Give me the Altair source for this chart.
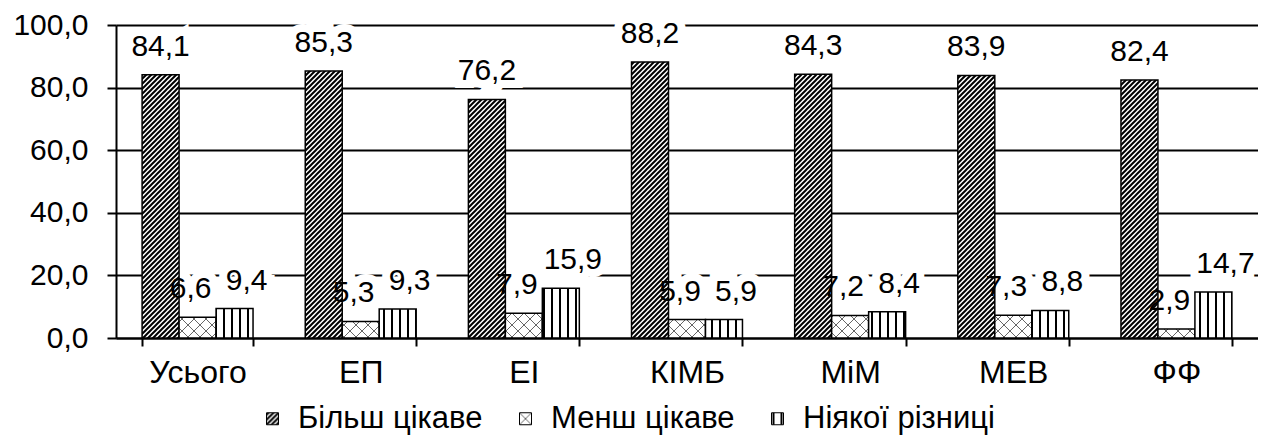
import altair as alt
import pandas as pd
import jinja2

# ---- data ----
categories = ["Усього", "ЕП", "ЕІ", "КІМБ", "МіМ", "МЕВ", "ФФ"]
series = ["Більш цікаве", "Менш цікаве", "Ніякої різниці"]
more_interesting = [84.1, 85.3, 76.2, 88.2, 84.3, 83.9, 82.4]
less_interesting = [6.6, 5.3, 7.9, 5.9, 7.2, 7.3, 2.9]
no_difference = [9.4, 9.3, 15.9, 5.9, 8.4, 8.8, 14.7]
y_ticks = [0, 20, 40, 60, 80, 100]

rows = []
for s, vals in zip(series, [more_interesting, less_interesting, no_difference]):
    for c, v in zip(categories, vals):
        rows.append({"cat": c, "series": s, "value": v})
df = pd.DataFrame(rows)

fills = ["url(#pat-diag)", "url(#pat-cross)", "url(#pat-vert)"]
label_dx = [0, -7, 12]
FONT = "Liberation Sans"
LABEL_EXPR = "replace(format(datum.value, '.1f'), '.', ',')"

x_enc = alt.X(
    "cat:N", sort=categories,
    scale=alt.Scale(paddingInner=0.32, paddingOuter=0.16),
    axis=alt.Axis(title=None, labelFontSize=32, labelColor="black", labelFont=FONT,
                  tickBand="extent", tickSize=8, tickColor="black", tickWidth=2,
                  domainColor="black", domainWidth=2, labelPadding=11, labelAngle=0,
                  grid=False),
)
y_enc = alt.Y(
    "value:Q",
    scale=alt.Scale(domain=[0, 100], nice=False),
    axis=alt.Axis(title=None, values=y_ticks, labelExpr=LABEL_EXPR, labelFontSize=30,
                  labelFont=FONT, labelColor="black", tickSize=9, tickColor="black",
                  tickWidth=2, domainColor="black", domainWidth=2, gridColor="black",
                  gridWidth=2, labelPadding=19),
)
xo = alt.XOffset("series:N", sort=series, scale=alt.Scale(paddingInner=0, paddingOuter=0))

bars = alt.Chart(df).mark_bar(stroke="black", strokeWidth=1.5).encode(
    x=x_enc, y=y_enc, xOffset=xo,
    fill=alt.Fill("series:N", sort=series,
                  scale=alt.Scale(domain=series, range=fills),
                  legend=alt.Legend(orient="none", legendX=141, legendY=378,
                                    direction="horizontal", title=None,
                                    labelFontSize=31, labelFont=FONT, labelColor="black",
                                    labelLimit=0,
                                    symbolType="square", symbolSize=144,
                                    symbolStrokeColor="black", symbolStrokeWidth=1,
                                    labelOffset=10, columnPadding=27)),
)

halos = []
texts = []
for s, dx in zip(series, label_dx):
    bt = alt.Chart(df).transform_filter(
        alt.datum.series == s
    ).transform_calculate(label=LABEL_EXPR).encode(
        x=x_enc, y=y_enc, xOffset=xo, text="label:N")
    halos.append(bt.mark_text(dx=dx, dy=-19, baseline="alphabetic", fontSize=30, font=FONT,
                              fill="white", stroke="white", strokeWidth=16,
                              strokeJoin="miter"))
    texts.append(bt.mark_text(dx=dx, dy=-19, baseline="alphabetic", fontSize=30, font=FONT,
                              color="black"))

chart = alt.layer(*halos, bars, *texts).properties(
    width=1142, height=313,
    padding={"left": 108, "top": 17, "right": 0, "bottom": 101},
    autosize=alt.AutoSizeParams(type="none"),
).configure_view(stroke=None).configure(background="white")

TEMPLATE = jinja2.Template("""<!DOCTYPE html>
<html>
<head>
<meta charset="utf-8">
<style>
  #{{ output_div }}.vega-embed { width: 100%; display: flex; }
</style>
<script type="text/javascript" src="{{ base_url }}/vega@{{ vega_version }}"></script>
<script type="text/javascript" src="{{ base_url }}/vega-lite@{{ vegalite_version }}"></script>
<script type="text/javascript" src="{{ base_url }}/vega-embed@{{ vegaembed_version }}"></script>
</head>
<body>
<svg width="0" height="0" style="position:absolute;left:0;top:0" aria-hidden="true">
  <defs>
    <pattern id="pat-diag" patternUnits="userSpaceOnUse" width="5" height="5">
      <rect width="5" height="5" fill="white"/>
      <path d="M-1,1 l2,-2 M0,5 l5,-5 M4,6 l2,-2" stroke="black" stroke-width="2"/>
    </pattern>
    <pattern id="pat-cross" patternUnits="userSpaceOnUse" width="12" height="12">
      <rect width="12" height="12" fill="white"/>
      <path d="M0,0 L12,12 M12,0 L0,12" stroke="#666" stroke-width="1"/>
    </pattern>
    <pattern id="pat-vert" patternUnits="userSpaceOnUse" width="8" height="8">
      <rect width="8" height="8" fill="white"/>
      <line x1="4" y1="0" x2="4" y2="8" stroke="black" stroke-width="2"/>
    </pattern>
  </defs>
</svg>
<div id="{{ output_div }}"></div>
<script>
  vegaEmbed("#{{ output_div }}", {{ spec }}, {{ embed_options }}).catch(console.error);
</script>
</body>
</html>
""")

chart.save("out.html", embed_options={"renderer": "svg", "actions": False}, template=TEMPLATE)
